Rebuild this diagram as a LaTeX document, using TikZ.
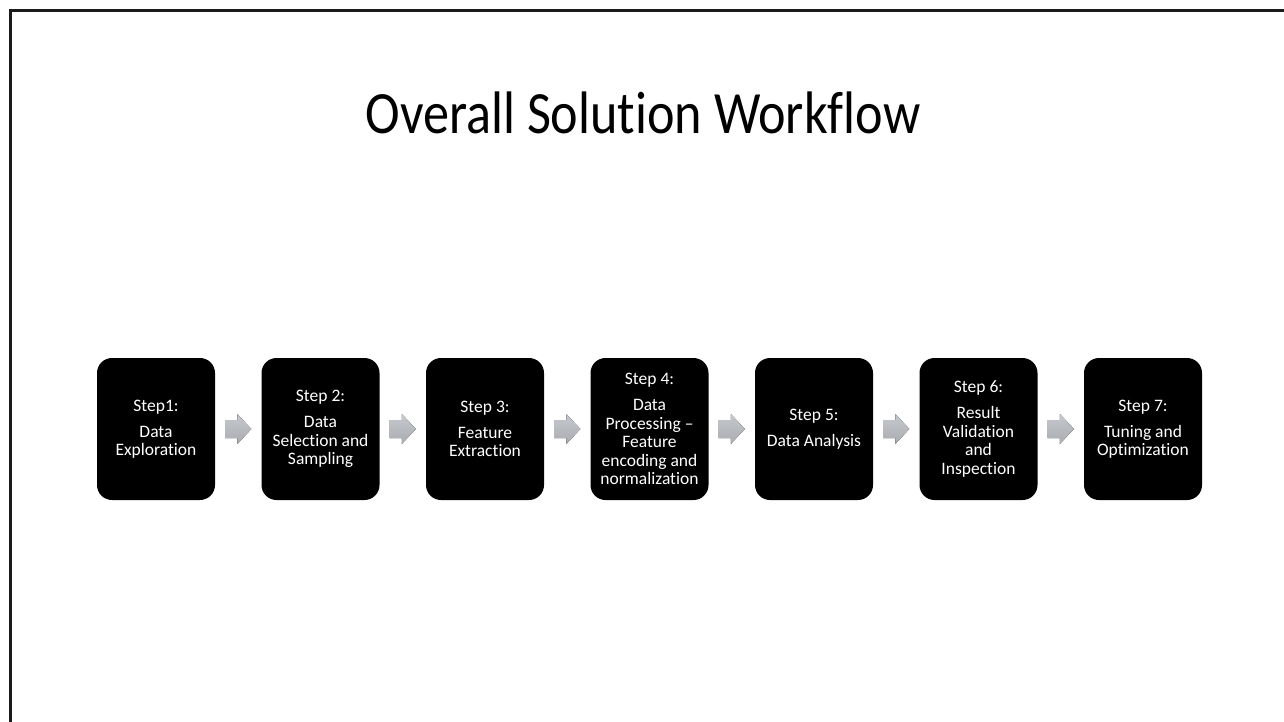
\documentclass[tikz,border=0pt]{standalone}
\usepackage{fontspec}
\setmainfont{Carlito}[Ligatures=NoCommon]
\newfontfamily\titlefont{Carlito}[Ligatures=NoCommon, FakeStretch=0.87]
\usetikzlibrary{calc}
\definecolor{framecol}{HTML}{1A1A1A}
\definecolor{arrtop}{HTML}{C6C8CC}
\definecolor{arrbot}{HTML}{A9ACB2}
\tikzset{
  stepbox/.style={fill=black, rounded corners=15pt, minimum width=118pt, minimum height=142pt,
    text=white, align=center, inner sep=0pt,
    font=\fontsize{17.5}{18.5}\selectfont},
  titletext/.style={font=\titlefont\fontsize{60}{68}\selectfont, anchor=base},
  flowarrow/.style={top color=arrtop, bottom color=arrbot, draw=none}
}
\newcommand{\flowarr}[2]{%
  \coordinate (s) at ($(#1.east)+(10pt,0)$);
  \coordinate (e) at ($(#2.west)+(-10pt,0)$);
  \fill[flowarrow] ($(s)+(0,9pt)$) -- ($(e)+(-14pt,9pt)$) -- ($(e)+(-14pt,15pt)$) -- (e)
    -- ($(e)+(-14pt,-15pt)$) -- ($(e)+(-14pt,-9pt)$) -- ($(s)+(0,-9pt)$) -- cycle;
}
\begin{document}
\begin{tikzpicture}[x=1pt,y=-1pt]
\useasboundingbox (0,0) rectangle (1284,721);
\fill[white] (0,0) rectangle (1284,721);
\draw[framecol, line width=3pt] (10.5,725) -- (10.5,10.5) -- (1290,10.5);
\node[titletext] (title) at (643,133) {Overall Solution Workflow};
\node[stepbox] (s1) at (156,429) {Step1:\\[7.5pt]Data\\Exploration};
\node[stepbox] (s2) at (320.5,429) {Step 2:\\[7.5pt]Data\\Selection and\\Sampling};
\node[stepbox] (s3) at (485,429) {Step 3:\\[7.5pt]Feature\\Extraction};
\node[stepbox] (s4) at (649.5,429) {Step 4:\\[7.5pt]Data\\Processing –\\Feature\\encoding and\\normalization};
\node[stepbox] (s5) at (814,429) {Step 5:\\[7.5pt]Data Analysis};
\node[stepbox] (s6) at (978.5,429) {Step 6:\\[7.5pt]Result\\Validation\\and\\Inspection};
\node[stepbox] (s7) at (1143,429) {Step 7:\\[7.5pt]Tuning and\\Optimization};
\flowarr{s1}{s2}
\flowarr{s2}{s3}
\flowarr{s3}{s4}
\flowarr{s4}{s5}
\flowarr{s5}{s6}
\flowarr{s6}{s7}
\end{tikzpicture}
\end{document}
